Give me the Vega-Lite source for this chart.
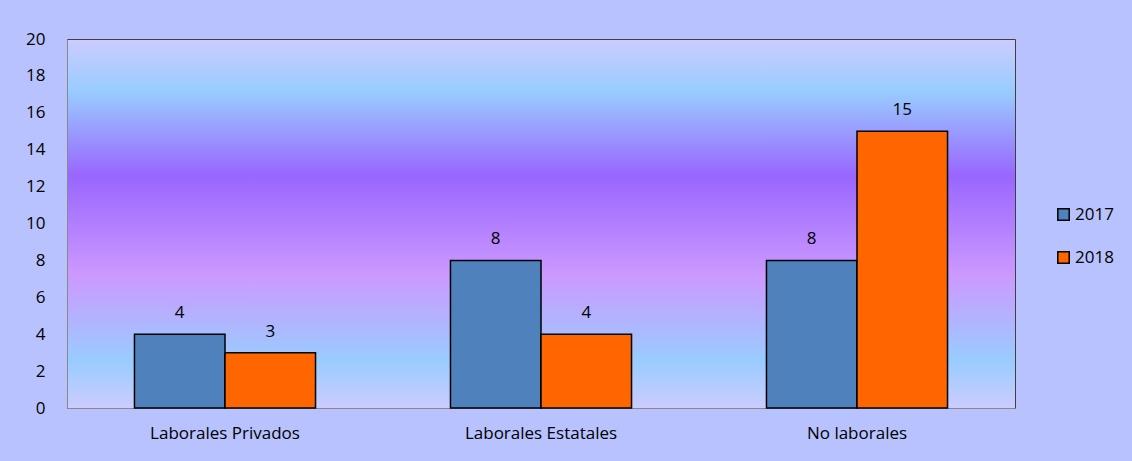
{
  "$schema": "https://vega.github.io/schema/vega-lite/v6.json",
  "width": 948,
  "height": 369,
  "autosize": {"type": "none"},
  "padding": {"left": 67, "top": 39, "right": 117, "bottom": 53},
  "background": "#B8C2FF",
  "config": {
    "font": "Open Sans",
    "view": {
      "stroke": "#404040",
      "strokeWidth": 1,
      "fill": {
        "gradient": "linear",
        "x1": 0, "y1": 0, "x2": 0, "y2": 1,
        "stops": [
          {"offset": 0, "color": "#CCCCFF"},
          {"offset": 0.14, "color": "#99CCFF"},
          {"offset": 0.37, "color": "#9966FF"},
          {"offset": 0.64, "color": "#CC99FF"},
          {"offset": 0.87, "color": "#99CCFF"},
          {"offset": 1, "color": "#CCCCFF"}
        ]
      }
    },
    "axis": {"labelColor": "#000000", "labelFontSize": 17, "labelFont": "Open Sans", "domainColor": "#888888", "ticks": false, "grid": false, "title": null}
  },
  "data": {
    "values": [
      {"cat": "Laborales Privados", "year": "2017", "value": 4},
      {"cat": "Laborales Privados", "year": "2018", "value": 3},
      {"cat": "Laborales Estatales", "year": "2017", "value": 8},
      {"cat": "Laborales Estatales", "year": "2018", "value": 4},
      {"cat": "No laborales", "year": "2017", "value": 8},
      {"cat": "No laborales", "year": "2018", "value": 15}
    ]
  },
  "encoding": {
    "x": {
      "field": "cat",
      "type": "nominal",
      "sort": ["Laborales Privados", "Laborales Estatales", "No laborales"],
      "scale": {"paddingInner": 0.427, "paddingOuter": 0.2135},
      "axis": {"labelAngle": 0, "labelPadding": 17}
    },
    "xOffset": {
      "field": "year",
      "type": "nominal",
      "scale": {"paddingInner": 0, "paddingOuter": 0}
    },
    "y": {
      "field": "value",
      "type": "quantitative",
      "scale": {"domain": [0, 20], "nice": false},
      "axis": {"values": [0, 2, 4, 6, 8, 10, 12, 14, 16, 18, 20], "labelPadding": 22}
    }
  },
  "layer": [
    {
      "mark": {"type": "bar", "stroke": "#000000", "strokeWidth": 1.5},
      "encoding": {
        "color": {
          "field": "year",
          "type": "nominal",
          "scale": {"domain": ["2017", "2018"], "range": ["#4F81BD", "#FF6600"]},
          "legend": {
            "title": null,
            "orient": "none",
            "legendX": 988,
            "legendY": 167,
            "symbolType": "square",
            "symbolSize": 130,
            "symbolStrokeColor": "#000000",
            "symbolStrokeWidth": 1.5,
            "symbolOpacity": 1,
            "labelFontSize": 17,
            "labelFont": "Open Sans",
            "labelColor": "#000000",
            "labelOffset": 3,
            "rowPadding": 24
          }
        }
      }
    },
    {
      "mark": {"type": "text", "baseline": "alphabetic", "dy": -16, "fontSize": 17, "font": "Open Sans", "color": "#000000"},
      "encoding": {"text": {"field": "value", "type": "quantitative"}}
    }
  ]
}
